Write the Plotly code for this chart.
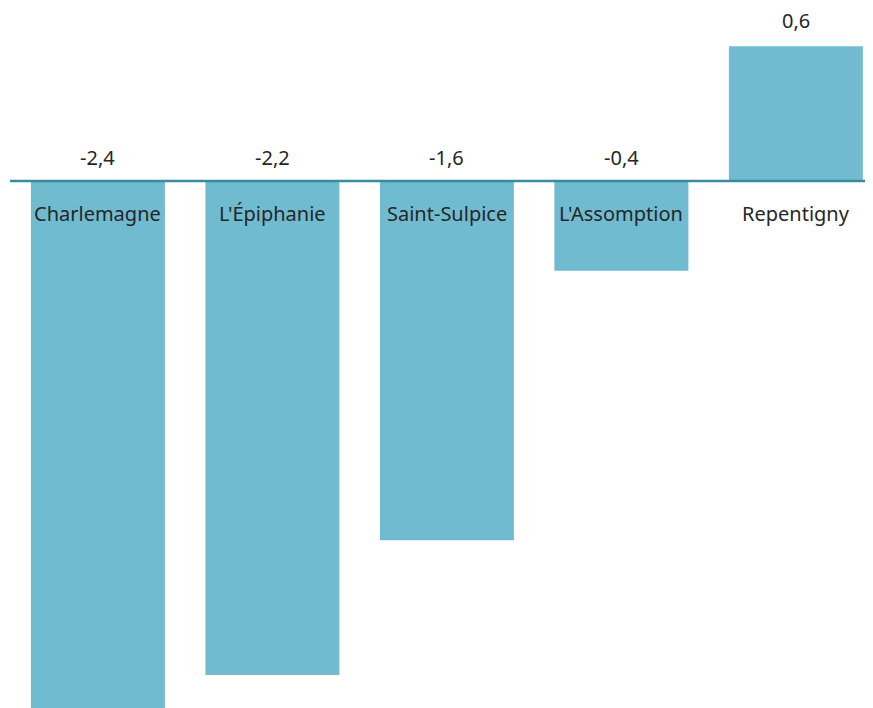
import plotly.graph_objects as go

categories = ["Charlemagne", "L'Épiphanie", "Saint-Sulpice", "L'Assomption", "Repentigny"]
values = [-2.4, -2.2, -1.6, -0.4, 0.6]
value_labels = ["-2,4", "-2,2", "-1,6", "-0,4", "0,6"]

bar_color = "#70bbd0"
line_color = "#3a8aa0"
font_family = "Noto Sans, Open Sans, sans-serif"
text_color = "#262626"

x_idx = list(range(len(categories)))

fig = go.Figure()
fig.add_trace(go.Bar(
    x=x_idx, y=values, width=0.768,
    marker=dict(color=bar_color, line=dict(width=0)),
    hoverinfo="skip",
))

annotations = []
for i, (c, v, lab) in enumerate(zip(categories, values, value_labels)):
    top = max(v, 0)
    annotations.append(dict(x=i, y=top, xref="x", yref="y", text=lab, showarrow=False,
                            yanchor="middle", yshift=24 if v < 0 else 26,
                            font=dict(family=font_family, size=20, color=text_color)))
    annotations.append(dict(x=i, y=0, xref="x", yref="y", text=c, showarrow=False,
                            yanchor="middle", yshift=-32,
                            font=dict(family=font_family, size=20, color=text_color)))

fig.add_shape(type="line", xref="paper", yref="y", x0=0, x1=1.05, y0=0, y1=0,
              line=dict(color=line_color, width=2.5))

fig.update_layout(
    width=865, height=700,
    margin=dict(l=2, r=0, t=0, b=0),
    paper_bgcolor="white", plot_bgcolor="white",
    showlegend=False,
    xaxis=dict(range=[-0.504, 4.442], visible=False, fixedrange=True),
    yaxis=dict(range=[-2.347, 0.7706], visible=False, fixedrange=True, zeroline=False),
    annotations=annotations,
)

fig.write_html("out.html")
